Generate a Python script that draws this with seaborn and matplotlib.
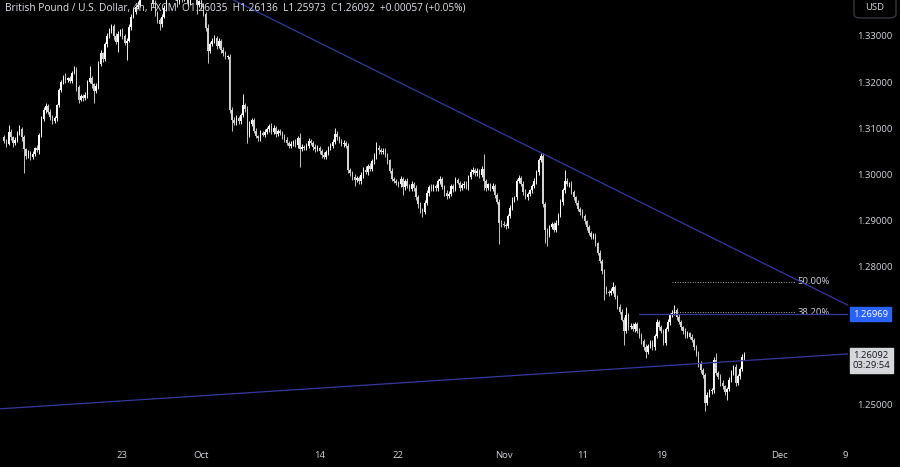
import numpy as np
import pandas as pd
import seaborn as sns
import matplotlib.pyplot as plt
from matplotlib.patches import FancyBboxPatch
from matplotlib.transforms import blended_transform_factory

# GBP/USD 4h candles, six bars per trading day (10 Sep - 27 Nov 2024)
first_open = 1.3080
closes = [
    1.3072, 1.3066, 1.3092, 1.3080, 1.3068, 1.3074,  # Sep 10
    1.3088, 1.3098, 1.3080, 1.3055, 1.3040, 1.3046,  # Sep 11
    1.3038, 1.3045, 1.3056, 1.3052, 1.3085, 1.3120,  # Sep 12
    1.3140, 1.3148, 1.3135, 1.3125, 1.3115, 1.3122,  # Sep 13
    1.3150, 1.3182, 1.3200, 1.3212, 1.3205, 1.3208,  # Sep 16
    1.3202, 1.3220, 1.3226, 1.3190, 1.3162, 1.3170,  # Sep 17
    1.3165, 1.3172, 1.3200, 1.3208, 1.3195, 1.3180,  # Sep 18
    1.3192, 1.3240, 1.3262, 1.3250, 1.3282, 1.3300,  # Sep 19
    1.3310, 1.3322, 1.3300, 1.3288, 1.3305, 1.3312,  # Sep 20
    1.3300, 1.3285, 1.3290, 1.3320, 1.3342, 1.3352,  # Sep 23
    1.3362, 1.3368, 1.3385, 1.3400, 1.3412, 1.3405,  # Sep 24
    1.3398, 1.3390, 1.3370, 1.3350, 1.3335, 1.3325,  # Sep 25
    1.3342, 1.3360, 1.3395, 1.3410, 1.3402, 1.3398,  # Sep 26
    1.3385, 1.3375, 1.3400, 1.3382, 1.3395, 1.3390,  # Sep 27
    1.3372, 1.3395, 1.3410, 1.3390, 1.3368, 1.3375,  # Sep 30
    1.3365, 1.3348, 1.3318, 1.3268, 1.3282, 1.3290,  # Oct 1
    1.3295, 1.3278, 1.3290, 1.3270, 1.3262, 1.3255,  # Oct 2
    1.3255, 1.3140, 1.3118, 1.3112, 1.3122, 1.3115,  # Oct 3
    1.3128, 1.3150, 1.3142, 1.3085, 1.3110, 1.3118,  # Oct 4
    1.3095, 1.3082, 1.3078, 1.3090, 1.3086, 1.3092,  # Oct 7
    1.3098, 1.3105, 1.3092, 1.3100, 1.3088, 1.3094,  # Oct 8
    1.3090, 1.3082, 1.3075, 1.3068, 1.3062, 1.3066,  # Oct 9
    1.3070, 1.3064, 1.3078, 1.3055, 1.3060, 1.3058,  # Oct 10
    1.3062, 1.3072, 1.3068, 1.3060, 1.3054, 1.3058,  # Oct 11
    1.3050, 1.3042, 1.3038, 1.3048, 1.3058, 1.3062,  # Oct 14
    1.3070, 1.3088, 1.3080, 1.3072, 1.3066, 1.3068,  # Oct 15
    1.3062, 1.3010, 1.3002, 1.2995, 1.2988, 1.2992,  # Oct 16
    1.2985, 1.2998, 1.3010, 1.3005, 1.3018, 1.3012,  # Oct 17
    1.3028, 1.3040, 1.3058, 1.3052, 1.3048, 1.3050,  # Oct 18
    1.3042, 1.3030, 1.3008, 1.2990, 1.2985, 1.2982,  # Oct 21
    1.2978, 1.2990, 1.2972, 1.2985, 1.2975, 1.2968,  # Oct 22
    1.2980, 1.2970, 1.2950, 1.2935, 1.2922, 1.2918,  # Oct 23
    1.2938, 1.2960, 1.2972, 1.2968, 1.2975, 1.2970,  # Oct 24
    1.2985, 1.2990, 1.2972, 1.2960, 1.2952, 1.2958,  # Oct 25
    1.2975, 1.2968, 1.2988, 1.2982, 1.2970, 1.2976,  # Oct 28
    1.2980, 1.2972, 1.2995, 1.3005, 1.3010, 1.3002,  # Oct 29
    1.3008, 1.2998, 1.3012, 1.2985, 1.2970, 1.2978,  # Oct 30
    1.2968, 1.2975, 1.2955, 1.2940, 1.2895, 1.2892,  # Oct 31
    1.2890, 1.2888, 1.2910, 1.2928, 1.2945, 1.2950,  # Nov 1
    1.2985, 1.2992, 1.2980, 1.2962, 1.2950, 1.2958,  # Nov 4
    1.2965, 1.2975, 1.2985, 1.3005, 1.3030, 1.3040,  # Nov 5
    1.2935, 1.2880, 1.2870, 1.2885, 1.2892, 1.2880,  # Nov 6
    1.2895, 1.2912, 1.2940, 1.2965, 1.2985, 1.2978,  # Nov 7
    1.2980, 1.2962, 1.2950, 1.2938, 1.2925, 1.2918,  # Nov 8
    1.2910, 1.2898, 1.2885, 1.2872, 1.2865, 1.2868,  # Nov 11
    1.2850, 1.2830, 1.2812, 1.2790, 1.2752, 1.2745,  # Nov 12
    1.2742, 1.2748, 1.2755, 1.2735, 1.2712, 1.2702,  # Nov 13
    1.2685, 1.2660, 1.2695, 1.2668, 1.2672, 1.2665,  # Nov 14
    1.2675, 1.2660, 1.2650, 1.2638, 1.2625, 1.2615,  # Nov 15
    1.2628, 1.2635, 1.2625, 1.2650, 1.2680, 1.2668,  # Nov 18
    1.2660, 1.2635, 1.2665, 1.2680, 1.2695, 1.2700,  # Nov 19
    1.2705, 1.2690, 1.2680, 1.2668, 1.2660, 1.2650,  # Nov 20
    1.2655, 1.2648, 1.2640, 1.2625, 1.2610, 1.2590,  # Nov 21
    1.2575, 1.2565, 1.2505, 1.2522, 1.2530, 1.2532,  # Nov 22
    1.2598, 1.2570, 1.2560, 1.2548, 1.2540, 1.2528,  # Nov 25
    1.2535, 1.2555, 1.2570, 1.2582, 1.2548, 1.2562,  # Nov 26
    1.2578, 1.26035, 1.26092,                          # Nov 27
]
# wick lengths beyond the body, in pips
wick_up = [
    5, 4, 15, 6, 3, 7,   6, 8, 4, 5, 3, 6,   4, 6, 3, 8, 5, 7,   5, 7, 4, 6, 3, 5,
    3, 6, 5, 4, 7, 4,    5, 4, 9, 6, 4, 5,   4, 6, 5, 27, 6, 4,  6, 5, 8, 4, 6, 7,
    7, 5, 4, 6, 5, 4,    5, 4, 6, 7, 5, 8,   6, 8, 5, 7, 4, 6,   4, 6, 5, 7, 5, 4,
    6, 7, 9, 8, 5, 6,    8, 6, 7, 5, 6, 8,   6, 8, 9, 5, 7, 4,   5, 6, 4, 7, 5, 6,
    7, 5, 6, 4, 5, 6,    4, 6, 5, 6, 7, 5,   6, 25, 5, 7, 6, 4,  5, 6, 4, 7, 5, 6,
    4, 5, 7, 6, 5, 4,    5, 4, 6, 5, 4, 6,   4, 6, 5, 12, 5, 4,  5, 7, 4, 5, 6, 5,
    4, 5, 6, 5, 4, 6,    6, 12, 5, 4, 5, 6,  5, 6, 4, 6, 5, 4,   4, 6, 5, 7, 5, 6,
    5, 6, 12, 5, 4, 6,   6, 5, 4, 6, 5, 4,   4, 6, 5, 4, 6, 5,   5, 4, 6, 5, 4, 6,
    6, 5, 4, 7, 5, 4,    4, 6, 5, 4, 6, 5,   5, 4, 6, 5, 4, 6,   6, 5, 4, 6, 5, 4,
    5, 4, 6, 31, 5, 4,   4, 6, 5, 4, 6, 5,   6, 5, 4, 6, 5, 4,   5, 6, 4, 5, 6, 4,
    4, 5, 6, 4, 5, 7,    6, 5, 4, 6, 5, 4,   5, 4, 6, 5, 25, 6,  4, 6, 5, 4, 6, 5,
    6, 5, 4, 6, 5, 4,    5, 4, 6, 5, 4, 6,   4, 6, 12, 5, 4, 6,  6, 5, 17, 4, 6, 5,
    5, 4, 6, 5, 4, 6,    4, 6, 5, 4, 6, 5,   6, 5, 4, 6, 5, 6,   11, 4, 6, 5, 4, 6,
    5, 4, 6, 5, 4, 6,    6, 5, 4, 6, 5, 4,   5, 14, 4, 6, 5, 4,  4, 6, 5, 4, 6, 5,
    5, 6, 4.4,
]
wick_dn = [
    4, 6, 3, 5, 8, 4,    5, 3, 7, 52, 6, 4,  6, 4, 5, 3, 7, 5,   4, 6, 5, 8, 6, 3,
    6, 4, 3, 5, 6, 4,    4, 5, 3, 9, 8, 4,   5, 4, 6, 3, 7, 25,  4, 6, 5, 7, 4, 5,
    5, 4, 8, 6, 23, 5,   6, 5, 37, 4, 6, 4,  5, 4, 6, 3, 7, 5,   6, 5, 8, 6, 7, 13,
    5, 4, 6, 7, 5, 6,    6, 13, 5, 9, 6, 7,  7, 5, 6, 8, 20, 6,  6, 5, 8, 26, 5, 4,
    5, 6, 4, 7, 6, 5,    6, 8, 23, 5, 4, 6,  5, 4, 6, 17, 5, 6,  6, 4, 5, 6, 4, 5,
    5, 6, 4, 5, 7, 4,    4, 6, 5, 4, 6, 5,   5, 4, 6, 40, 5, 6,  6, 5, 4, 7, 5, 4,
    7, 6, 5, 4, 6, 5,    5, 4, 6, 5, 4, 6,   6, 8, 5, 7, 13, 5,  6, 5, 7, 4, 6, 5,
    4, 5, 6, 7, 5, 4,    5, 7, 6, 5, 4, 6,   6, 5, 17, 6, 5, 4,  4, 6, 5, 7, 6, 11,
    5, 4, 6, 5, 4, 6,    6, 5, 4, 6, 5, 4,   4, 6, 5, 4, 6, 5,   5, 4, 6, 5, 4, 6,
    6, 5, 4, 20, 6, 5,   5, 4, 6, 5, 47, 6,  5, 6, 4, 5, 6, 5,   6, 4, 5, 6, 4, 5,
    5, 6, 4, 5, 6, 4,    5, 30, 26, 5, 4, 6, 6, 5, 4, 6, 5, 4,   5, 4, 6, 5, 4, 6,
    4, 6, 5, 4, 6, 5,    6, 5, 4, 6, 24, 5,  5, 4, 6, 5, 4, 6,   4, 30, 5, 6, 4, 5,
    6, 5, 4, 6, 5, 13,   5, 4, 6, 5, 4, 6,   4, 6, 5, 4, 6, 5,   5, 6, 4, 5, 6, 4,
    6, 5, 4, 6, 5, 7,    5, 6, 18, 5, 4, 6,  6, 5, 4, 6, 5, 7,   18, 4, 6, 5, 6, 5,
    6, 5, 6.2,
]

start_day = "2024-09-10"
bars_per_day = 6
date_ticks = ["2024-09-23", "2024-10-01", "2024-10-14", "2024-10-22", "2024-11-01",
              "2024-11-11", "2024-11-19", "2024-12-02", "2024-12-09"]
date_tick_labels = ["23", "Oct", "14", "22", "Nov", "11", "19", "Dec", "9"]
price_ticks = [1.25, 1.28, 1.29, 1.30, 1.31, 1.32, 1.33]

upper_trend_x, upper_trend_y = [75, 245], [1.3448, 1.3047]
lower_trend_x, lower_trend_y = [0, 338], [1.2492, 1.2596]
swing_low, swing_high = 1.2487, 1.3047
fib_ratios = [0.382, 0.5]
fib_labels = ["38.20%", "50.00%"]
fib_span = [305, 361]
ray_level = 1.26969
ray_start = 290
last_price = 1.26092
countdown = "03:29:54"
title = ("British Pound / U.S. Dollar, 4h, FXCM  O1.26035  H1.26136  "
         "L1.25973  C1.26092  +0.00057 (+0.05%)")

# ---------------------------------------------------------------------------
BG = "#000000"
TXT = "#d1d4dc"
LINE_BLUE = "#35399e"
FS = 6.8

sns.set_theme(style="dark", rc={"axes.facecolor": BG, "figure.facecolor": BG,
                                "axes.grid": False})
plt.rcParams["font.family"] = ["Open Sans", "DejaVu Sans"]

close = np.array(closes)
open_ = np.r_[first_open, close[:-1]]
high = np.maximum(open_, close) + np.array(wick_up) / 1e4
low = np.minimum(open_, close) - np.array(wick_dn) / 1e4
x = np.arange(len(close))
up = close >= open_
colors = np.where(up, "#ffffff", "#d2d2d2")

fig = plt.figure(figsize=(9, 4.67), dpi=100)
ax = fig.add_axes([0, 28 / 467, 848 / 900, 439 / 467])
xlim = (-1.9, 385.3)
ax.set_xlim(xlim)
ax.set_ylim(1.2426, 1.3378)

# candles
ax.vlines(x, low, high, colors=colors, lw=0.65, zorder=2)
body_lo = np.minimum(open_, close)
body_h = np.maximum(np.abs(close - open_), 0.00005)
ax.bar(x, body_h, bottom=body_lo, width=0.66, color=colors, linewidth=0, zorder=3)

# trend lines extended across the pane
xs = np.array(xlim)
slope_u = (upper_trend_y[1] - upper_trend_y[0]) / (upper_trend_x[1] - upper_trend_x[0])
slope_l = (lower_trend_y[1] - lower_trend_y[0]) / (lower_trend_x[1] - lower_trend_x[0])
sns.lineplot(x=xs, y=upper_trend_y[0] + slope_u * (xs - upper_trend_x[0]),
             ax=ax, color=LINE_BLUE, lw=0.9, zorder=4)
sns.lineplot(x=xs, y=lower_trend_y[0] + slope_l * (xs - lower_trend_x[0]),
             ax=ax, color=LINE_BLUE, lw=0.9, zorder=4)

# horizontal ray
sns.lineplot(x=[ray_start, xlim[1]], y=[ray_level, ray_level], ax=ax,
             color=LINE_BLUE, lw=0.9, zorder=4)

# fibonacci levels
for r, lab in zip(fib_ratios, fib_labels):
    lvl = swing_low + r * (swing_high - swing_low)
    ax.plot(fib_span, [lvl, lvl], color="#a9acb5", lw=0.7, ls=(0, (1, 1.6)), zorder=5)
    ax.text(fib_span[1] + 1.2, lvl, lab, color=TXT, fontsize=FS, va="center", ha="left")

# axes styling
for s in ax.spines.values():
    s.set_visible(False)
ax.yaxis.tick_right()
ax.set_yticks(price_ticks)
ax.set_yticklabels([f"{p:.5f}" for p in price_ticks])
ax.tick_params(axis="y", length=0, pad=6.5, labelsize=FS, colors=TXT)

days = pd.bdate_range(start_day, periods=80)
day_idx = {d: i for i, d in enumerate(days)}
ax.set_xticks([day_idx[pd.Timestamp(d)] * bars_per_day for d in date_ticks])
ax.set_xticklabels(date_tick_labels)
ax.tick_params(axis="x", length=0, pad=8.5, labelsize=FS, colors=TXT)
ax.set_xlabel("")
ax.set_ylabel("")

# price labels on the axis
tr = blended_transform_factory(ax.transAxes, ax.transData)
ax.annotate(f"{ray_level:.5f}", xy=(1.0, ray_level), xycoords=tr,
            xytext=(3.5, 0), textcoords="offset points", ha="left", va="center",
            fontsize=FS, color="white", annotation_clip=False,
            bbox=dict(boxstyle="square,pad=0.3", fc="#2962ff", ec="#2962ff"))
ax.annotate(f"{last_price:.5f}\n{countdown}", xy=(1.0, last_price), xycoords=tr,
            xytext=(3.5, -4.3), textcoords="offset points", ha="left", va="center",
            fontsize=FS, color="#131722", linespacing=1.1, annotation_clip=False,
            bbox=dict(boxstyle="square,pad=0.3", fc="#d6d7db", ec="#d6d7db"))

# currency button in the top right corner
fig.patches.append(FancyBboxPatch((854 / 900, 1 - 18 / 467), 42 / 900, 24 / 467,
                                  boxstyle="round,pad=0,rounding_size=0.008",
                                  transform=fig.transFigure, fc=BG, ec="#3a3d47",
                                  lw=0.9, zorder=5))
fig.text(875 / 900, 1 - 8 / 467, "USD", color=TXT, fontsize=FS, ha="center",
         va="center", zorder=6)

fig.text(5 / 900, 1 - 8 / 467, title, color="#e0e3eb", fontsize=7.3, ha="left",
         va="center", zorder=10)

fig.savefig("out.png", dpi=100, facecolor=BG)
